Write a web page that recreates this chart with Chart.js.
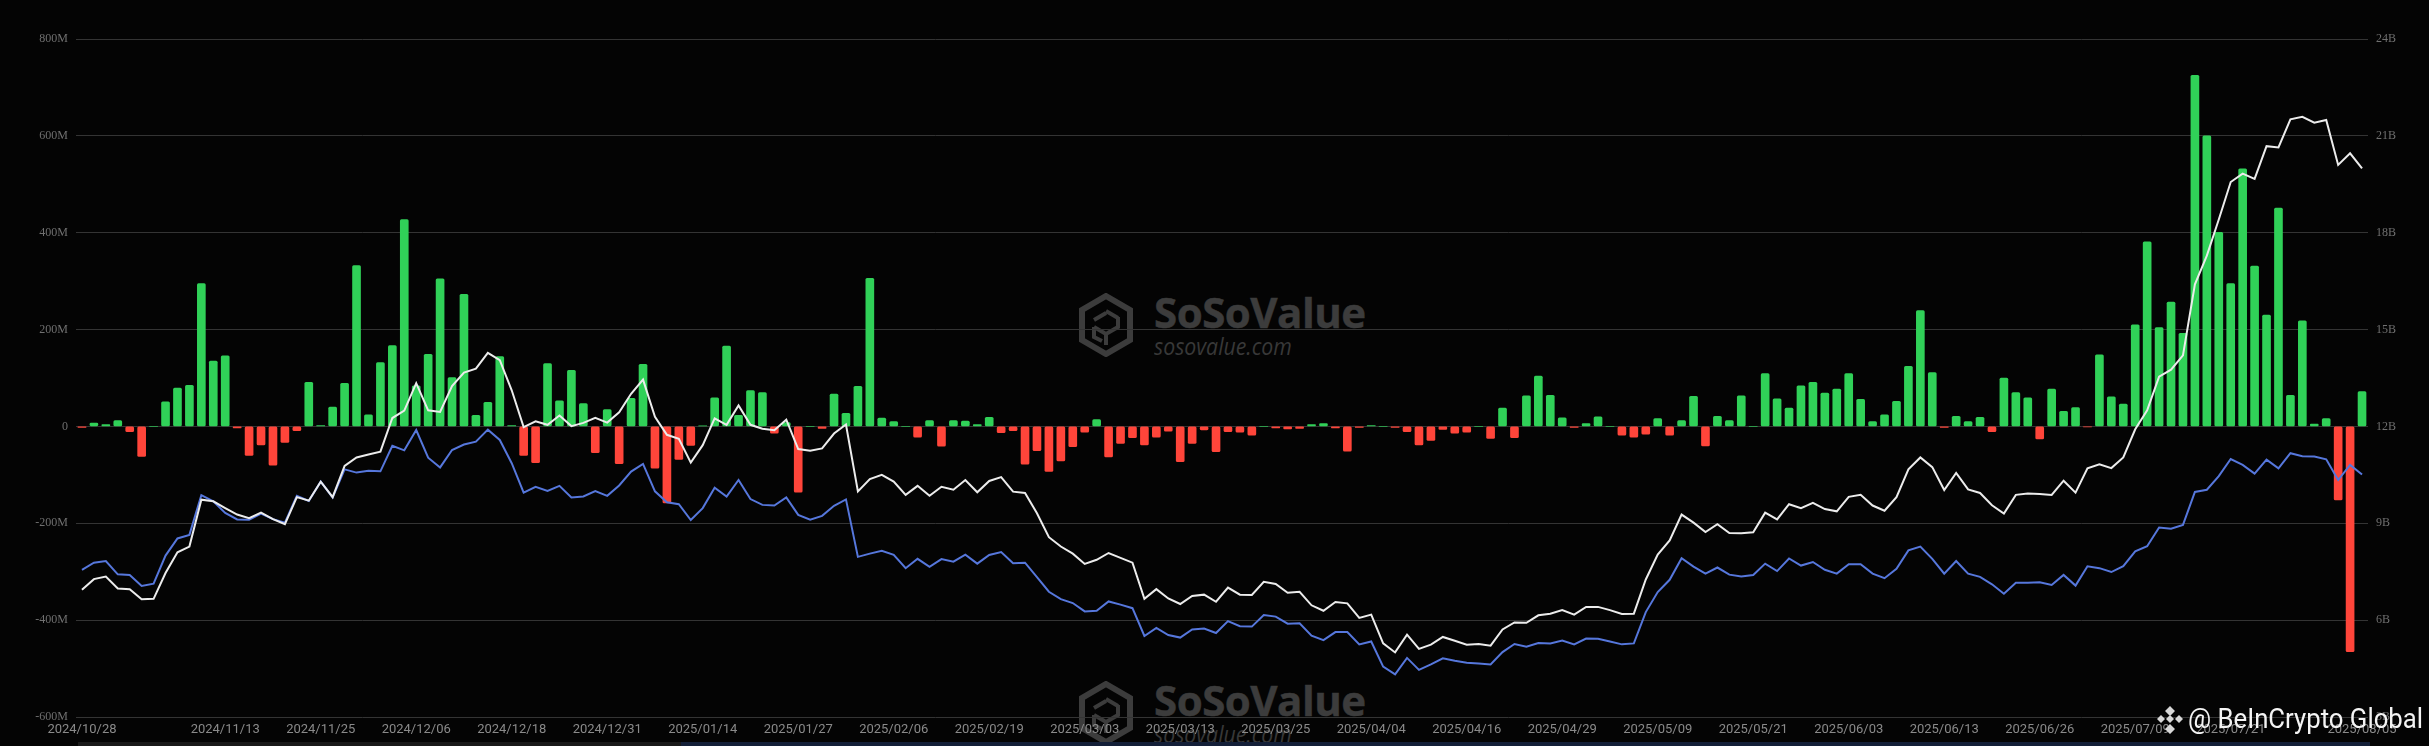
<!DOCTYPE html>
<html>
<head>
<meta charset="utf-8">
<script src="https://cdn.jsdelivr.net/npm/chart.js@4"></script>
<style>
html,body{margin:0;padding:0;background:#040404;width:2429px;height:746px;overflow:hidden}
#wrap{position:relative;width:2429px;height:746px;overflow:hidden}
canvas{position:absolute;left:0;top:0;z-index:2}
.wm{position:absolute;color:#3c3c3c;z-index:1;white-space:nowrap;transform-origin:0 0}
.wmT{font:700 42px "Open Sans";letter-spacing:-.5px;line-height:40px;-webkit-text-stroke:.5px #3c3c3c}
.wmS{font:italic 400 23px "Open Sans";line-height:24px;color:#383838;transform:scaleX(.925)}
.strip{position:absolute;top:742px;height:4px;z-index:1}
#bic{position:absolute;left:2188px;top:699px;color:#f4f4f4;font:400 27px "Roboto";line-height:40px;z-index:3;white-space:nowrap;transform-origin:0 0}
svg{position:absolute}
</style>
</head>
<body>
<div id="wrap">
  <svg style="left:1078px;top:293px;z-index:1" width="56" height="64" viewBox="0 0 56 64" fill="none" stroke="#3c3c3c">
    <path d="M28 3 L52 17 L52 47 L28 61 L4 47 L4 17 Z" stroke-width="6"/>
    <path d="M16 34 L28 41 L40 34 L40 24 M28 41 L28 52 M28 18 L40 25 M16 27 L28 20 M16 34 L16 44 L24 48" stroke-width="4"/>
  </svg>
  <div class="wm wmT" style="left:1154px;top:292px">SoSoValue</div>
  <div class="wm wmS" style="left:1154px;top:334px">sosovalue.com</div>
  <svg style="left:1078px;top:681px;z-index:1" width="56" height="64" viewBox="0 0 56 64" fill="none" stroke="#3c3c3c">
    <path d="M28 3 L52 17 L52 47 L28 61 L4 47 L4 17 Z" stroke-width="6"/>
    <path d="M16 34 L28 41 L40 34 L40 24 M28 41 L28 52 M28 18 L40 25 M16 27 L28 20 M16 34 L16 44 L24 48" stroke-width="4"/>
  </svg>
  <div class="wm wmT" style="left:1154px;top:680px">SoSoValue</div>
  <div class="wm wmS" style="left:1154px;top:722px">sosovalue.com</div>
  <div class="strip" style="left:78px;width:603px;background:#191919"></div>
  <div class="strip" style="left:681px;width:1689px;background:#131f38"></div>
  <canvas id="c" width="2429" height="746"></canvas>
  <svg style="left:2155px;top:705px;z-index:3" width="30" height="30" viewBox="0 0 30 30" fill="#d8d8d8">
    <path d="M15 1 L20 6 L15 11 L10 6 Z M6 10 L10 14 L6 18 L2 14 Z M24 10 L28 14 L24 18 L20 14 Z M15 10 L19 14 L15 18 L11 14 Z M15 19 L20 24 L15 29 L10 24 Z"/>
  </svg>
  <div id="bic">@ BeInCrypto Global</div>
</div>
<script>
const categories = [
"2024/10/28","2024/10/29","2024/10/30","2024/10/31","2024/11/01","2024/11/04","2024/11/05","2024/11/06","2024/11/07","2024/11/08",
"2024/11/11","2024/11/12","2024/11/13","2024/11/14","2024/11/15","2024/11/18","2024/11/19","2024/11/20","2024/11/21","2024/11/22",
"2024/11/25","2024/11/26","2024/11/27","2024/11/29","2024/12/02","2024/12/03","2024/12/04","2024/12/05","2024/12/06","2024/12/09",
"2024/12/10","2024/12/11","2024/12/12","2024/12/13","2024/12/16","2024/12/17","2024/12/18","2024/12/19","2024/12/20","2024/12/23",
"2024/12/24","2024/12/26","2024/12/27","2024/12/30","2024/12/31","2025/01/02","2025/01/03","2025/01/06","2025/01/07","2025/01/08",
"2025/01/10","2025/01/13","2025/01/14","2025/01/15","2025/01/16","2025/01/17","2025/01/21","2025/01/22","2025/01/23","2025/01/24",
"2025/01/27","2025/01/28","2025/01/29","2025/01/30","2025/01/31","2025/02/03","2025/02/04","2025/02/05","2025/02/06","2025/02/07",
"2025/02/10","2025/02/11","2025/02/12","2025/02/13","2025/02/14","2025/02/18","2025/02/19","2025/02/20","2025/02/21","2025/02/24",
"2025/02/25","2025/02/26","2025/02/27","2025/02/28","2025/03/03","2025/03/04","2025/03/05","2025/03/06","2025/03/07","2025/03/10",
"2025/03/11","2025/03/12","2025/03/13","2025/03/14","2025/03/17","2025/03/18","2025/03/19","2025/03/20","2025/03/21","2025/03/24",
"2025/03/25","2025/03/26","2025/03/27","2025/03/28","2025/03/31","2025/04/01","2025/04/02","2025/04/03","2025/04/04","2025/04/07",
"2025/04/08","2025/04/09","2025/04/10","2025/04/11","2025/04/14","2025/04/15","2025/04/16","2025/04/17","2025/04/21","2025/04/22",
"2025/04/23","2025/04/24","2025/04/25","2025/04/28","2025/04/29","2025/04/30","2025/05/01","2025/05/02","2025/05/05","2025/05/06",
"2025/05/07","2025/05/08","2025/05/09","2025/05/12","2025/05/13","2025/05/14","2025/05/15","2025/05/16","2025/05/19","2025/05/20",
"2025/05/21","2025/05/22","2025/05/23","2025/05/27","2025/05/28","2025/05/29","2025/05/30","2025/06/02","2025/06/03","2025/06/04",
"2025/06/05","2025/06/06","2025/06/09","2025/06/10","2025/06/11","2025/06/12","2025/06/13","2025/06/16","2025/06/17","2025/06/18",
"2025/06/20","2025/06/23","2025/06/24","2025/06/25","2025/06/26","2025/06/27","2025/06/30","2025/07/01","2025/07/02","2025/07/03",
"2025/07/07","2025/07/08","2025/07/09","2025/07/10","2025/07/11","2025/07/14","2025/07/15","2025/07/16","2025/07/17","2025/07/18",
"2025/07/21","2025/07/22","2025/07/23","2025/07/24","2025/07/25","2025/07/28","2025/07/29","2025/07/30","2025/07/31","2025/08/01",
"2025/08/04","2025/08/05"];

const xTickLabels = ["2024/10/28","2024/11/13","2024/11/25","2024/12/06","2024/12/18","2024/12/31","2025/01/14","2025/01/27","2025/02/06","2025/02/19","2025/03/03","2025/03/13","2025/03/25","2025/04/04","2025/04/16","2025/04/29","2025/05/09","2025/05/21","2025/06/03","2025/06/13","2025/06/26","2025/07/09","2025/07/21","2025/08/05"];

// daily net flow, $M
const netFlow = [
-2,7,4,12,-11,-62,0,51,79,85,
295,135,146,-3,-60,-38,-80,-33,-9,91,
2,40,89,332,24,132,167,427,84,149,
305,101,273,23,50,144,2,-60,-75,130,
53,116,47,-54,35,-77,58,128,-86,-158,
-68,-39,1,59,166,23,74,70,-14,8,
-136,0,-4,67,27,83,306,17,10,0,
-22,12,-41,12,11,4,19,-13,-9,-78,
-50,-93,-71,-42,-12,14,-63,-35,-23,-38,
-22,-10,-73,-35,-7,-52,-11,-12,-18,0,
-3,-5,-4,4,6,-3,-51,-2,2,0,
-2,-11,-38,-29,-6,-14,-12,0,-25,38,
-23,63,104,64,18,-2,6,20,0,-18,
-22,-16,16,-18,12,62,-40,21,12,63,
0,109,57,38,84,91,69,77,109,56,
10,24,52,124,239,111,-2,21,10,19,
-11,100,70,59,-26,77,31,39,-1,148,
61,46,210,381,204,257,192,725,600,401,
295,532,331,230,451,64,218,5,16,-152,
-465,72];

// total net assets, $B
const netAssets = [
6.94,7.27,7.35,6.98,6.96,6.65,6.66,7.46,8.10,8.28,
9.73,9.68,9.47,9.27,9.16,9.33,9.13,8.97,9.81,9.70,
10.29,9.81,10.78,11.04,11.13,11.22,12.26,12.49,13.34,12.50,
12.45,13.25,13.67,13.79,14.28,14.05,13.12,11.98,12.16,12.05,
12.34,12.01,12.11,12.27,12.12,12.44,13.01,13.45,12.30,11.74,
11.62,10.88,11.42,12.25,12.05,12.65,12.05,11.93,11.88,12.21,
11.30,11.25,11.32,11.78,12.06,9.99,10.37,10.50,10.29,9.88,
10.16,9.85,10.13,10.04,10.34,9.96,10.31,10.43,9.98,9.94,
9.31,8.57,8.28,8.06,7.74,7.87,8.08,7.93,7.78,6.66,
6.96,6.67,6.50,6.75,6.79,6.57,7.01,6.79,6.78,7.19,
7.12,6.85,6.88,6.46,6.29,6.56,6.52,6.07,6.17,5.28,
5.00,5.55,5.11,5.24,5.48,5.36,5.24,5.26,5.21,5.71,
5.93,5.92,6.15,6.20,6.31,6.17,6.41,6.41,6.31,6.19,
6.20,7.26,8.03,8.47,9.27,9.02,8.73,8.97,8.70,8.69,
8.72,9.33,9.12,9.59,9.47,9.63,9.44,9.37,9.82,9.88,
9.55,9.39,9.81,10.67,11.04,10.74,10.03,10.56,10.05,9.94,
9.56,9.30,9.88,9.92,9.91,9.88,10.32,9.95,10.70,10.83,
10.71,11.04,11.91,12.50,13.54,13.76,14.20,16.40,17.29,18.41,
19.57,19.83,19.67,20.68,20.64,21.51,21.59,21.41,21.49,20.10,
20.46,19.99];

// cumulative net inflow, $B
const cumInflow = [
7.56,7.78,7.83,7.42,7.40,7.06,7.13,8.00,8.53,8.64,
9.87,9.68,9.32,9.12,9.11,9.30,9.13,9.02,9.85,9.69,
10.29,9.80,10.67,10.57,10.63,10.61,11.40,11.26,11.89,11.03,
10.73,11.27,11.44,11.53,11.90,11.58,10.86,9.95,10.13,10.00,
10.16,9.80,9.83,10.00,9.85,10.17,10.60,10.84,9.99,9.65,
9.59,9.10,9.47,10.10,9.83,10.34,9.75,9.57,9.55,9.80,
9.26,9.11,9.23,9.54,9.74,7.96,8.06,8.15,8.02,7.61,
7.90,7.65,7.89,7.81,8.03,7.75,8.02,8.11,7.76,7.78,
7.33,6.88,6.65,6.53,6.27,6.29,6.58,6.48,6.37,5.51,
5.76,5.54,5.46,5.71,5.74,5.60,5.97,5.81,5.80,6.16,
6.11,5.89,5.90,5.52,5.38,5.63,5.63,5.25,5.34,4.56,
4.32,4.83,4.46,4.63,4.82,4.74,4.68,4.66,4.63,5.01,
5.26,5.18,5.29,5.28,5.37,5.25,5.43,5.42,5.34,5.25,
5.28,6.25,6.87,7.25,7.92,7.66,7.44,7.63,7.41,7.35,
7.40,7.75,7.52,7.91,7.69,7.80,7.56,7.44,7.73,7.73,
7.44,7.30,7.59,8.16,8.28,7.90,7.44,7.83,7.44,7.34,
7.11,6.82,7.16,7.16,7.17,7.09,7.40,7.07,7.67,7.61,
7.49,7.67,8.13,8.29,8.87,8.83,8.95,9.97,10.04,10.46,
10.99,10.81,10.54,10.97,10.70,11.17,11.08,11.07,10.98,10.34,
10.81,10.51];

const GREEN = '#30d158', RED = '#ff453a';

const bic = document.getElementById('bic');
bic.style.transform = 'scaleX(' + (235 / bic.getBoundingClientRect().width) + ')';

new Chart(document.getElementById('c'), {
  data: {
    labels: categories,
    datasets: [
      { type:'line', data: cumInflow, yAxisID:'y2', borderColor:'#5677dc', borderWidth:2, pointRadius:0, tension:0, order:1, clip:false },
      { type:'line', data: netAssets, yAxisID:'y2', borderColor:'#ececec', borderWidth:2, pointRadius:0, tension:0, order:0, clip:false },
      { type:'bar', data: netFlow, yAxisID:'y', barThickness:8, borderRadius:1.5, borderSkipped:false,
        backgroundColor: c => c.raw < 0 ? RED : GREEN, order:2 }
    ]
  },
  options: {
    responsive:false, animation:false, devicePixelRatio:1,
    layout:{ padding:{ top:39, left:0, right:0, bottom:0 } },
    plugins:{ legend:{display:false}, tooltip:{enabled:false} },
    scales:{
      x:{
        offset:true,
        grid:{display:false, drawTicks:false},
        border:{display:false},
        afterFit:s=>{ s.height = 29; },
        ticks:{
          autoSkip:false, maxRotation:0, minRotation:0, padding:5,
          color:'#8a8a8a',
          font:{family:'Roboto', size:13},
          callback(v){ const l=this.getLabelForValue(v); return xTickLabels.includes(l)?l:''; }
        }
      },
      y:{
        position:'left', min:-600, max:800,
        afterFit:s=>{ s.width = 76; },
        border:{display:false},
        grid:{color:'#343434', lineWidth:1, drawTicks:false},
        ticks:{ stepSize:200, padding:8, color:'#707070',
          font:{family:'"Liberation Serif"', size:12},
          callback:v=> v===0 ? '0' : v+'M' }
      },
      y2:{
        position:'right', min:3, max:24,
        afterFit:s=>{ s.width = 61; },
        border:{display:false},
        grid:{display:false, drawTicks:false},
        ticks:{ stepSize:3, padding:8, color:'#707070',
          font:{family:'"Liberation Serif"', size:12},
          callback:v=> v+'B' }
      }
    }
  }
});
</script>
</body>
</html>
